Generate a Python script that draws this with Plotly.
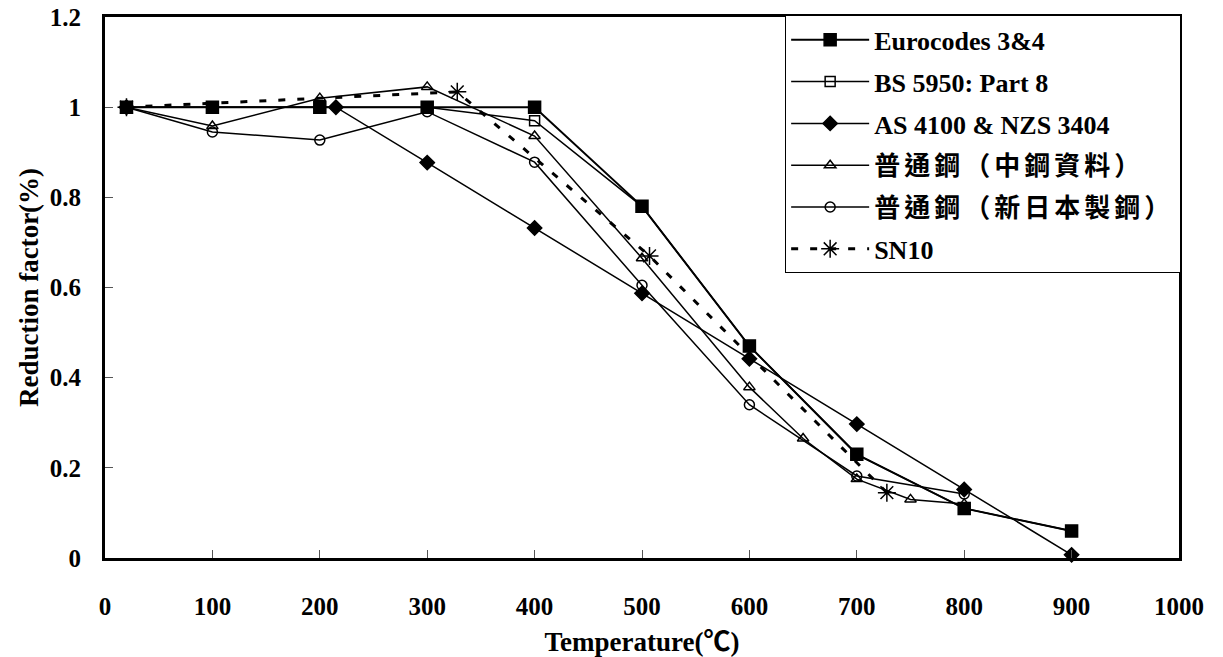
import plotly.graph_objects as go

# Temperatures (°C) and strength reduction factors for each code / steel
temps_ec = [20, 100, 200, 300, 400, 500, 600, 700, 800, 900]
ec34 = [1.0, 1.0, 1.0, 1.0, 1.0, 0.78, 0.47, 0.23, 0.11, 0.06]

temps_bs = [20, 100, 200, 300, 400, 500, 600, 700, 800, 900]
bs5950 = [1.0, 1.0, 1.0, 1.0, 0.97, 0.78, 0.47, 0.23, 0.11, 0.06]

temps_as = [20, 215, 300, 400, 500, 600, 700, 800, 900]
as4100 = [1.0, 1.0, 0.877, 0.732, 0.587, 0.442, 0.297, 0.152, 0.007]

temps_csc = [20, 100, 200, 300, 400, 500, 600, 650, 700, 750, 800]
csc_steel = [1.0, 0.958, 1.02, 1.045, 0.936, 0.665, 0.379, 0.265, 0.175, 0.13, 0.12]

temps_nsc = [20, 100, 200, 300, 400, 500, 600, 700, 800]
nsc_steel = [1.0, 0.945, 0.927, 0.99, 0.878, 0.605, 0.34, 0.182, 0.142]

temps_sn10 = [20, 328, 507, 728]
sn10 = [1.0, 1.034, 0.67, 0.145]

x_ticks = [0, 100, 200, 300, 400, 500, 600, 700, 800, 900, 1000]
y_ticks = [0, 0.2, 0.4, 0.6, 0.8, 1.0, 1.2]
y_tick_text = ["0", "0.2", "0.4", "0.6", "0.8", "1", "1.2"]

FONT = "Times New Roman, Liberation Serif, Noto Sans CJK TC, serif"
CJK_STYLE = "letter-spacing:4px"

series = [
    ("Eurocodes 3&4", temps_ec, ec34, "square", 12, 2, "solid"),
    ("BS 5950: Part 8", temps_bs, bs5950, "square-open", 10, 1.5, "solid"),
    ("AS 4100 & NZS 3404", temps_as, as4100, "diamond", 11, 1.5, "solid"),
    ("普通鋼（中鋼資料）", temps_csc, csc_steel, "triangle-up-open", 10, 1.5, "solid"),
    ("普通鋼（新日本製鋼）", temps_nsc, nsc_steel, "circle-open", 10, 1.5, "solid"),
    ("SN10", temps_sn10, sn10, "asterisk-open", 15, 3, "7px,12px"),
]

fig = go.Figure()
for i, (name, xs, ys, sym, size, lw, dash) in enumerate(series):
    label = name
    if not name.isascii():
        label = f'<span style="{CJK_STYLE}">{name}</span>'
    fig.add_trace(go.Scatter(
        x=xs, y=ys, name=label, mode="lines+markers",
        legendgroup=f"g{i}",
        line=dict(color="black", width=lw, dash=dash),
        marker=dict(symbol=sym, size=size, color="black",
                    line=dict(color="black", width=1.5)),
        cliponaxis=False,
    ))

tick_font = dict(family=FONT, size=25, color="black", weight="bold")
title_font = dict(family=FONT, size=27, color="black", weight="bold")

axis_common = dict(
    showline=True, linecolor="black", linewidth=3, mirror=True,
    showgrid=False, zeroline=False, automargin=False,
    ticks="inside", ticklen=8, tickwidth=1, tickcolor="#555",
    tickfont=tick_font,
)

fig.update_xaxes(
    range=[0, 1000], tickvals=x_ticks, ticklabelstandoff=24,
    title=dict(text="Temperature(℃)", standoff=14, font=title_font),
    **axis_common,
)
fig.update_yaxes(
    range=[0, 1.2], tickvals=y_ticks, ticktext=y_tick_text, ticklabelstandoff=16,
    title=dict(text="Reduction factor(%)", standoff=4, font=title_font),
    **axis_common,
)

fig.update_layout(
    width=1223, height=657,
    margin=dict(l=105, r=44, t=17, b=99),
    paper_bgcolor="white", plot_bgcolor="white",
    font=dict(family=FONT, size=25, color="black", weight="bold"),
    legend=dict(
        x=1.002, y=1.003, xanchor="right", yanchor="top",
        bgcolor="white", bordercolor="black", borderwidth=1,
        font=dict(family=FONT, size=26, color="black", weight="bold"),
        traceorder="grouped", tracegroupgap=5, itemwidth=78,
    ),
    showlegend=True,
)

fig.write_html("out.html")
